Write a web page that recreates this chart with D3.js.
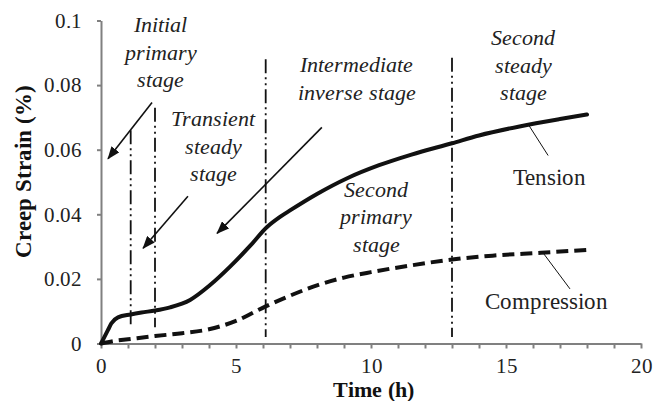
<!DOCTYPE html>
<html><head><meta charset="utf-8">
<script src="https://cdn.jsdelivr.net/npm/d3@7"></script>
<style>
@font-face{font-family:"RefSerif";font-style:normal;font-weight:400;src:local("Liberation Serif"),local("LiberationSerif"),local("Tinos"),local("Times New Roman");}
@font-face{font-family:"RefSerif";font-style:italic;font-weight:400;src:local("Liberation Serif Italic"),local("LiberationSerif-Italic"),local("Tinos Italic"),local("Times New Roman Italic");}
@font-face{font-family:"RefSerif";font-style:normal;font-weight:700;src:local("Liberation Serif Bold"),local("LiberationSerif-Bold"),local("Tinos Bold"),local("Times New Roman Bold");}
</style>
</head>
<body style="margin:0">
<svg id="chart" width="656" height="401"></svg>
<script>
// ---- data ----
const tensionTime = [0, 0.1, 0.26, 0.38, 0.63, 1.1, 1.5, 2, 2.56, 3.3, 4.04, 4.78, 5.52, 6.14, 6.63, 7, 8, 9.1, 10.3, 11.5, 13, 14, 15.5, 17, 18];
const tensionStrain = [0, 0.0016, 0.0042, 0.0062, 0.0081, 0.0090, 0.0096, 0.0102, 0.0112, 0.0135, 0.0181, 0.0238, 0.0302, 0.0360, 0.0392, 0.0412, 0.0463, 0.0511, 0.0552, 0.0585, 0.0620, 0.0644, 0.0672, 0.0695, 0.0709];
const compressionTime = [0, 0.5, 1, 2, 3, 4, 5, 6.1, 7, 8, 9, 10, 11.5, 13, 14.5, 16.3, 18];
const compressionStrain = [0, 0.0008, 0.0013, 0.0023, 0.0032, 0.0044, 0.0070, 0.0115, 0.0148, 0.0180, 0.0204, 0.0221, 0.0242, 0.0260, 0.0272, 0.0281, 0.0290];
const stageBoundaries = [1.1, 2, 6.1, 13];
const boundaryTop = [0.066, 0.073, 0.088, 0.0885];
const boundaryBottom = [0.005, 0.005, 0.002, 0.002];
const xTicks = [0, 5, 10, 15, 20];
const yTicks = [0, 0.02, 0.04, 0.06, 0.08, 0.1];
const yTickLabels = ["0", "0.02", "0.04", "0.06", "0.08", "0.1"];
const stageLabels = [
  {lines: ["Initial", "primary", "stage"], x: 2.22, y: 0.0964},
  {lines: ["Transient", "steady", "stage"], x: 4.15, y: 0.0673},
  {lines: ["Intermediate", "inverse stage"], x: 9.48, y: 0.0840},
  {lines: ["Second", "steady", "stage"], x: 15.63, y: 0.0924},
  {lines: ["Second", "primary", "stage"], x: 10.19, y: 0.0454}
];
// arrows: [fromX, fromY, toX, toY] in data units
const arrows = [
  [1.89, 0.0746, 0.26, 0.0572],
  [3.22, 0.0456, 1.56, 0.0295],
  [8.18, 0.0669, 4.3, 0.0341]
];
// leader lines
const leaders = [
  {from: [15.85, 0.0675], to: [16.56, 0.0582], label: "Tension", lx: 16.6, ly: 0.0490},
  {from: [16.37, 0.0281], to: [17.37, 0.0169], label: "Compression", lx: 16.5, ly: 0.0107}
];

// ---- chart ----
const svg = d3.select("#chart");
const x = d3.scaleLinear().domain([0, 20]).range([101, 641]);
const y = d3.scaleLinear().domain([0, 0.1]).range([343.5, 20.5]);
const FONT = '"RefSerif", "Liberation Serif", Tinos, "Times New Roman", serif';

// stage boundary lines
svg.append("g").selectAll("line").data(stageBoundaries).join("line")
  .attr("x1", d => x(d)).attr("x2", d => x(d))
  .attr("y1", (d, i) => y(boundaryTop[i])).attr("y2", (d, i) => y(boundaryBottom[i]))
  .attr("stroke", "#111").attr("stroke-width", 1.8)
  .attr("stroke-dasharray", "14,4,2,4,2,4");

// axes
const xAxis = d3.axisBottom(x).tickValues(d3.range(0, 21, 1))
  .tickFormat(d => xTicks.includes(d) ? d : "")
  .tickSize(5).tickSizeOuter(0).tickPadding(10);
const gx = svg.append("g").attr("transform", `translate(0,${y(0)})`).call(xAxis);
const yAxis = d3.axisLeft(y).tickValues(yTicks)
  .tickFormat((d, i) => yTickLabels[i])
  .tickSize(4).tickSizeOuter(0).tickPadding(15);
const gy = svg.append("g").attr("transform", `translate(${x(0)},0)`).call(yAxis);
[gx, gy].forEach(g => {
  g.attr("font-family", null).attr("font-size", null);
  g.select(".domain").attr("stroke", "#808080").attr("stroke-width", 2);
  g.selectAll(".tick line").attr("stroke", "#808080").attr("stroke-width", 2);
  g.selectAll(".tick text").attr("fill", "#222").style("font-family", FONT).style("font-size", "21px");
});

// curves
const line = d3.line().x(d => x(d[0])).y(d => y(d[1])).curve(d3.curveMonotoneX);
svg.append("path").datum(tensionTime.map((t, i) => [t, tensionStrain[i]]))
  .attr("d", line).attr("fill", "none").attr("stroke", "#111")
  .attr("stroke-width", 4).attr("stroke-linecap", "round").attr("stroke-linejoin", "round");
svg.append("path").datum(compressionTime.map((t, i) => [t, compressionStrain[i]]))
  .attr("d", line).attr("fill", "none").attr("stroke", "#111")
  .attr("stroke-width", 4).attr("stroke-dasharray", "12,6");

// arrows
const defs = svg.append("defs");
defs.append("marker").attr("id", "ah").attr("viewBox", "0 0 13 10")
  .attr("refX", 12).attr("refY", 5).attr("markerWidth", 13).attr("markerHeight", 10)
  .attr("markerUnits", "userSpaceOnUse").attr("orient", "auto")
  .append("path").attr("d", "M0,0 L13,5 L0,10 Z").attr("fill", "#111");
svg.append("g").selectAll("line").data(arrows).join("line")
  .attr("x1", d => x(d[0])).attr("y1", d => y(d[1]))
  .attr("x2", d => x(d[2])).attr("y2", d => y(d[3]))
  .attr("stroke", "#111").attr("stroke-width", 1.6).attr("marker-end", "url(#ah)");

// leaders
svg.append("g").selectAll("line").data(leaders).join("line")
  .attr("x1", d => x(d.from[0])).attr("y1", d => y(d.from[1]))
  .attr("x2", d => x(d.to[0])).attr("y2", d => y(d.to[1]))
  .attr("stroke", "#111").attr("stroke-width", 1);
svg.append("g").selectAll("text").data(leaders).join("text")
  .attr("x", d => x(d.lx)).attr("y", d => y(d.ly))
  .attr("text-anchor", "middle").attr("fill", "#222")
  .style("font-family", FONT).style("font-size", "23px")
  .text(d => d.label);

// stage labels
stageLabels.forEach(s => {
  const t = svg.append("text").attr("text-anchor", "middle").attr("fill", "#222")
    .style("font-family", FONT).style("font-size", "22px").style("font-style", "italic");
  s.lines.forEach((l, i) => {
    t.append("tspan").attr("x", x(s.x)).attr("y", y(s.y) + i * 27.5).text(l);
  });
});

// axis titles
svg.append("text").attr("x", 373).attr("y", 397).attr("text-anchor", "middle")
  .attr("fill", "#111").style("font-family", FONT).style("font-size", "22px").style("font-weight", "bold")
  .text("Time (h)");
svg.append("text").attr("transform", "translate(31,171) rotate(-90)").attr("text-anchor", "middle")
  .attr("fill", "#111").style("font-family", FONT).style("font-size", "23px").style("font-weight", "bold")
  .text("Creep Strain (%)");
</script>
</body></html>
